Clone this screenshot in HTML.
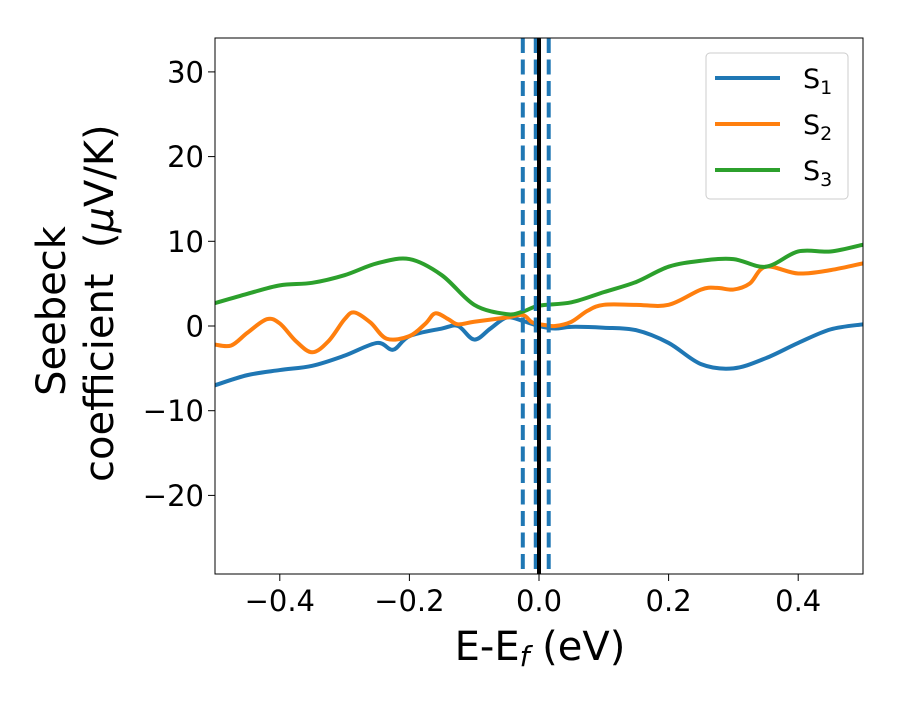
<!DOCTYPE html>
<html><head><meta charset="utf-8"><style>
body{margin:0;background:#fff;}
svg text{font-family:"DejaVu Sans","Liberation Sans",sans-serif;fill:#000;}
</style></head><body>
<svg id="chart" width="900" height="700">
<defs><clipPath id="clip"><rect x="215" y="38" width="648" height="536"/></clipPath></defs>
<g id="plot" clip-path="url(#clip)"></g>
<rect x="215" y="38" width="648" height="536" fill="none" stroke="#000" stroke-width="1"/>
<g id="ticks"></g>
<text x="540" y="660" font-size="40" text-anchor="middle">E-E<tspan font-style="italic" font-size="28" dy="6">f</tspan><tspan dy="-6"> (eV)</tspan></text>
<text transform="translate(65,311) rotate(-90)" font-size="40" text-anchor="middle">Seebeck</text>
<text transform="translate(113,482) rotate(-90)" font-size="40" text-anchor="start">coefficient&#160; (<tspan font-style="italic">μ</tspan>V/K)</text>
<g>
<rect x="706" y="53" width="142" height="146" rx="4" fill="#fff" stroke="#ccc"/>
<line x1="715" y1="78" x2="780" y2="78" stroke="#1f77b4" stroke-width="4"/>
<text x="803" y="88" font-size="27">S<tspan font-size="19" dy="6">1</tspan></text>
<line x1="715" y1="124" x2="780" y2="124" stroke="#ff7f0e" stroke-width="4"/>
<text x="803" y="134" font-size="27">S<tspan font-size="19" dy="6">2</tspan></text>
<line x1="715" y1="170" x2="780" y2="170" stroke="#2ca02c" stroke-width="4"/>
<text x="803" y="180" font-size="27">S<tspan font-size="19" dy="6">3</tspan></text>
</g>
</svg>
<script>
const xTicks=[-0.4,-0.2,0.0,0.2,0.4];
const xTickLabels=["−0.4","−0.2","0.0","0.2","0.4"];
const yTicks=[-20,-10,0,10,20,30];
const yTickLabels=["−20","−10","0","10","20","30"];
const s1x=[-0.5,-0.45,-0.4,-0.35,-0.3,-0.25,-0.225,-0.2,-0.15,-0.125,-0.1,-0.075,-0.05,-0.025,0,0.025,0.05,0.1,0.15,0.2,0.25,0.3,0.35,0.4,0.45,0.5];
const s1y=[-7,-5.8,-5.2,-4.7,-3.5,-2.0,-2.8,-1.2,-0.3,0,-1.6,-0.3,1.0,0.6,0,-0.3,-0.1,-0.2,-0.5,-2,-4.5,-5,-3.8,-2,-0.4,0.2];
const s2x=[-0.5,-0.475,-0.45,-0.42,-0.4,-0.375,-0.35,-0.325,-0.3,-0.285,-0.26,-0.235,-0.2,-0.175,-0.16,-0.14,-0.125,-0.1,-0.05,-0.025,-0.01,0.01,0.025,0.05,0.075,0.1,0.15,0.2,0.25,0.275,0.3,0.325,0.35,0.4,0.45,0.5];
const s2y=[-2.2,-2.3,-0.8,0.8,0.3,-1.8,-3.1,-1.8,0.8,1.6,0.4,-1.5,-1.2,0.3,1.5,0.8,0.2,0.5,1.0,1.3,0.4,0.1,0,0.5,1.8,2.5,2.5,2.5,4.3,4.5,4.3,5.0,7.0,6.2,6.6,7.4];
const s3x=[-0.5,-0.45,-0.4,-0.35,-0.3,-0.25,-0.2,-0.15,-0.1,-0.05,-0.025,0,0.05,0.1,0.15,0.2,0.25,0.3,0.35,0.4,0.45,0.5];
const s3y=[2.7,3.8,4.8,5.1,6.0,7.4,7.9,6.0,2.5,1.4,1.7,2.4,2.8,4.0,5.2,7.0,7.7,7.9,7.0,8.8,8.8,9.6];
const dashedLines=[-0.025,-0.005,0.015];
const fermi=0;
const X=v=>539+v*648, Y=v=>326-v*8.47;
const NS="http://www.w3.org/2000/svg";
const plot=document.getElementById('plot'), ticks=document.getElementById('ticks');
function mk(t,a,p){const e=document.createElementNS(NS,t);for(const k in a)e.setAttribute(k,a[k]);p.appendChild(e);return e;}
function pathD(xs,ys){const P=xs.map((x,i)=>[X(x),Y(ys[i])]);let d=`M${P[0][0]},${P[0][1]}`;
for(let i=0;i<P.length-1;i++){const p0=P[Math.max(0,i-1)],p1=P[i],p2=P[i+1],p3=P[Math.min(P.length-1,i+2)];
d+=` C${p1[0]+(p2[0]-p0[0])/6},${p1[1]+(p2[1]-p0[1])/6} ${p2[0]-(p3[0]-p1[0])/6},${p2[1]-(p3[1]-p1[1])/6} ${p2[0]},${p2[1]}`;}return d;}
[[s1x,s1y,'#1f77b4','series-s1'],[s2x,s2y,'#ff7f0e','series-s2'],[s3x,s3y,'#2ca02c','series-s3']].forEach(s=>{
const p=mk('path',{d:pathD(s[0],s[1]),fill:'none',stroke:s[2],'stroke-width':4},plot);

});
dashedLines.forEach(v=>{const l=mk('line',{x1:X(v),x2:X(v),y1:38,y2:574,stroke:'#1f77b4','stroke-width':4,'stroke-dasharray':'15 6.5'},plot);

});
const fl=mk('line',{x1:X(fermi),x2:X(fermi),y1:38,y2:574,stroke:'#000','stroke-width':4},plot);


xTicks.forEach((v,i)=>{mk('line',{x1:X(v),x2:X(v),y1:574,y2:581,stroke:'#000'},ticks);
const t=mk('text',{x:X(v),y:611,'font-size':29,'text-anchor':'middle'},ticks);t.textContent=xTickLabels[i];

});
yTicks.forEach((v,i)=>{mk('line',{x1:208,x2:215,y1:Y(v),y2:Y(v),stroke:'#000'},ticks);
const t=mk('text',{x:204,y:Y(v)+10.5,'font-size':29,'text-anchor':'end'},ticks);t.textContent=yTickLabels[i];

});
</script>
</body></html>
